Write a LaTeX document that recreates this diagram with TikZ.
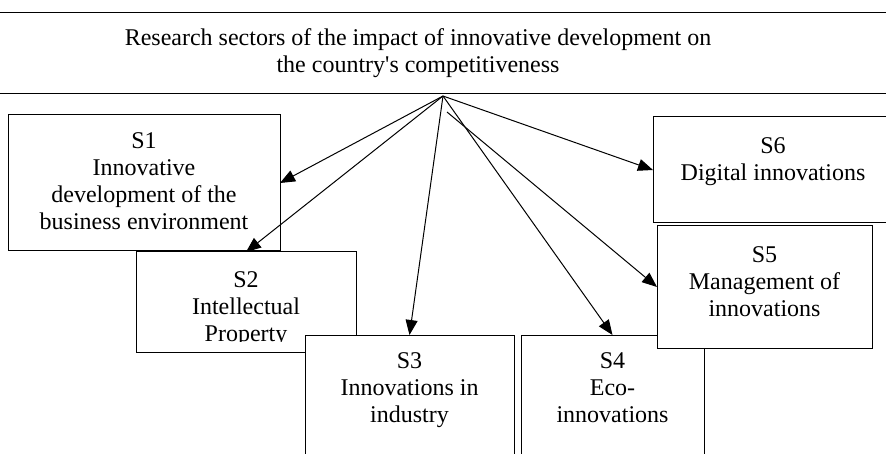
\documentclass[tikz,border=0pt]{standalone}
\usepackage{fontspec}
\setmainfont{Liberation Serif}
\usetikzlibrary{arrows.meta}

\begin{document}
\begin{tikzpicture}[x=1pt,y=-1pt,
  every node/.style={outer sep=0pt, inner sep=0pt, font=\fontsize{24}{27}\selectfont},
  sector/.style={draw=black, line width=1pt, fill=white},
  caption/.style={anchor=north, align=center},
  link/.style={-{Triangle[length=15pt,width=12pt]}, line width=1pt}]
\clip (0,0) rectangle (886,454);
\fill[white] (0,0) rectangle (886,454);

\node[sector, minimum width=960pt, minimum height=81pt, align=center] (top) at (418,53.5)
  {Research sectors of the impact of innovative development on\\the country\textquotesingle s competitiveness};

\node[sector, minimum width=272pt, minimum height=136pt] (s1) at (144,183) {};
\node[caption] (s1t) at ([yshift=-18pt]s1.north) {S1\\Innovative\\development of the\\business environment};

\node[sector, minimum width=220pt, minimum height=100pt] (s2) at (246,302) {};
\begin{scope}
\clip (136,252) rectangle (356,341);
\node[caption] (s2t) at ([yshift=-20pt]s2.north) {S2\\Intellectual\\Property};
\end{scope}

\node[sector, minimum width=209pt, minimum height=140pt] (s3) at (409.5,405) {};
\node[caption] (s3t) at ([yshift=-18pt]s3.north) {S3\\Innovations in\\industry};

\node[sector, minimum width=183pt, minimum height=140pt] (s4) at (612.5,405) {};
\node[caption] (s4t) at ([yshift=-18pt]s4.north) {S4\\Eco-\\innovations};

\node[sector, minimum width=240pt, minimum height=106pt] (s6) at (773,170) {};
\node[caption] (s6t) at ([yshift=-21pt]s6.north) {S6\\Digital innovations};

\node[sector, minimum width=215pt, minimum height=122pt] (s5) at (764.5,287) {};
\node[caption] (s5t) at ([yshift=-21pt]s5.north) {S5\\Management of\\innovations};

% arrows from the top box
\coordinate (hub) at (443,96);
\coordinate (hubb) at (447,112);
\draw[link] (hub) -- (s1.east);
\draw[link] (hub) -- (s2.north);
\draw[link] (hub) -- (s3.north);
\draw[link] (hub) -- (s4.north);
\draw[link] (hub) -- (s6.west);
\draw[link] (hubb) -- (s5.west);
\end{tikzpicture}
\end{document}
